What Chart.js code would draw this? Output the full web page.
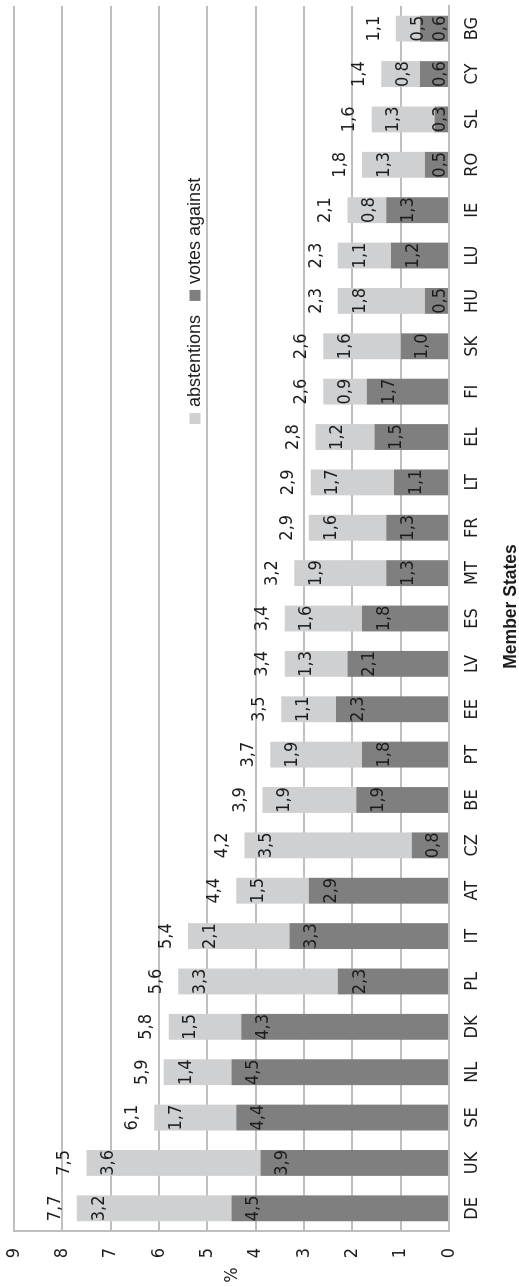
<!DOCTYPE html>
<html>
<head>
<meta charset="utf-8">
<script src="https://cdn.jsdelivr.net/npm/chart.js@4/dist/chart.umd.min.js"></script>
<style>
  html, body { margin: 0; padding: 0; background: #ffffff; overflow: hidden; }
  body { width: 519px; height: 1287px; position: relative; }
  /* the chart is laid out landscape and turned a quarter turn to stand upright */
  #turn {
    position: absolute; left: 0; top: 0;
    width: 1287px; height: 519px;
    transform-origin: 0 0;
    transform: translate(0, 1287px) rotate(-90deg);
  }
  canvas { display: block; }
</style>
</head>
<body>
<div id="turn"><canvas id="chart" width="1287" height="519"></canvas></div>
<script>
// Member States, ordered by total share of negative votes and abstentions
const memberStates = ['DE','UK','SE','NL','DK','PL','IT','AT','CZ','BE','PT','EE','LV','ES','MT','FR','LT','EL','FI','SK','HU','LU','IE','RO','SL','CY','BG'];

// votes against (%)
const votesAgainst = [4.5, 3.9, 4.4, 4.5, 4.3, 2.3, 3.3, 2.9, 0.77, 1.92, 1.8, 2.34, 2.1, 1.8, 1.3, 1.3, 1.14, 1.54, 1.7, 1.0, 0.5, 1.2, 1.3, 0.5, 0.3, 0.6, 0.6];

// abstentions (%)
const abstentions = [3.2, 3.6, 1.7, 1.4, 1.5, 3.3, 2.1, 1.5, 3.46, 1.94, 1.9, 1.13, 1.3, 1.6, 1.9, 1.6, 1.72, 1.22, 0.9, 1.6, 1.8, 1.1, 0.8, 1.3, 1.3, 0.8, 0.5];

// value axis ticks
const valueTicks = [0, 1, 2, 3, 4, 5, 6, 7, 8, 9];

const LIGHT = '#cfd0d2';
const DARK = '#7f7f7f';
const GRID = '#bfbfbf';
const INK = '#1c1c1c';
const NARROW = '"Liberation Sans Narrow", "DejaVu Sans Condensed", "Arial Narrow", sans-serif';
const SANS = '"Liberation Sans", Arial, Helvetica, sans-serif';

const fmt = v => (Math.round(v * 10) / 10).toFixed(1).replace('.', ',');

// value labels inside each segment and the stack total above it
const valueLabels = {
  id: 'valueLabels',
  afterDatasetsDraw(chart) {
    const ctx = chart.ctx;
    const zeroY = chart.scales.y.getPixelForValue(0);
    const against = chart.getDatasetMeta(0).data;
    const abst = chart.getDatasetMeta(1).data;
    ctx.save();
    ctx.font = '18px ' + NARROW;
    ctx.fillStyle = INK;
    ctx.textAlign = 'center';
    ctx.textBaseline = 'middle';
    against.forEach((bar, i) => {
      ctx.fillText(fmt(votesAgainst[i]), bar.x, Math.min(bar.y + 22, zeroY - 9));
    });
    abst.forEach((bar, i) => {
      ctx.fillText(fmt(abstentions[i]), bar.x, bar.y + 22);
      ctx.fillText(fmt(votesAgainst[i] + abstentions[i]), bar.x, bar.y - 22);
    });
    ctx.restore();
  }
};

// legend inside the plot, axis title under the categories, unit beside the value axis
const legendAndTitles = {
  id: 'legendAndTitles',
  afterDraw(chart) {
    const ctx = chart.ctx;
    const area = chart.chartArea;
    ctx.save();
    ctx.font = '18px ' + SANS;
    ctx.textBaseline = 'middle';
    ctx.textAlign = 'left';
    const cy = 195;
    let x = 863;
    const items = [
      { text: chart.data.datasets[1].label, color: LIGHT },
      { text: chart.data.datasets[0].label, color: DARK }
    ];
    items.forEach(it => {
      ctx.fillStyle = it.color;
      ctx.fillRect(x, cy - 5.5, 11, 11);
      x += 17;
      ctx.fillStyle = INK;
      ctx.fillText(it.text, x, cy);
      x += ctx.measureText(it.text).width + 14;
    });

    ctx.textAlign = 'center';
    ctx.font = 'bold 17.5px ' + SANS;
    ctx.fillText('Member States', (area.left + area.right) / 2 + 12, 511);

    ctx.font = '18px ' + NARROW;
    ctx.fillText('%', 12, (area.top + area.bottom) / 2 + 1);
    ctx.restore();
  }
};

// keep the plot box fixed: no extra room reserved for overhanging tick labels
function noOverhang(scale) {
  scale.paddingTop = 0;
  scale.paddingBottom = 0;
  scale.paddingLeft = 0;
  scale.paddingRight = 0;
}

new Chart(document.getElementById('chart'), {
  type: 'bar',
  data: {
    labels: memberStates,
    datasets: [
      { label: 'votes against', data: votesAgainst, backgroundColor: DARK },
      { label: 'abstentions', data: abstentions, backgroundColor: LIGHT }
    ]
  },
  options: {
    responsive: false,
    animation: false,
    devicePixelRatio: 1,
    layout: { autoPadding: false, padding: { left: 0, right: 6, top: 14, bottom: 0 } },
    datasets: { bar: { categoryPercentage: 0.57, barPercentage: 1 } },
    plugins: {
      legend: { display: false },
      tooltip: { enabled: false }
    },
    scales: {
      x: {
        stacked: true,
        grid: { display: false, drawTicks: false },
        border: { display: true, color: GRID, width: 2 },
        ticks: { color: INK, font: { family: NARROW, size: 18 }, padding: 13, maxRotation: 0, autoSkip: false },
        afterFit(scale) { scale.height = 70; noOverhang(scale); }
      },
      y: {
        stacked: true,
        min: valueTicks[0],
        max: valueTicks[valueTicks.length - 1],
        afterBuildTicks(scale) { scale.ticks = valueTicks.map(v => ({ value: v })); },
        grid: { color: GRID, lineWidth: 2, drawTicks: false },
        border: { display: true, color: GRID, width: 2 },
        ticks: { color: INK, font: { family: NARROW, size: 18 }, padding: 17 },
        afterFit(scale) { scale.width = 56; noOverhang(scale); }
      }
    }
  },
  plugins: [valueLabels, legendAndTitles]
});
</script>
</body>
</html>
